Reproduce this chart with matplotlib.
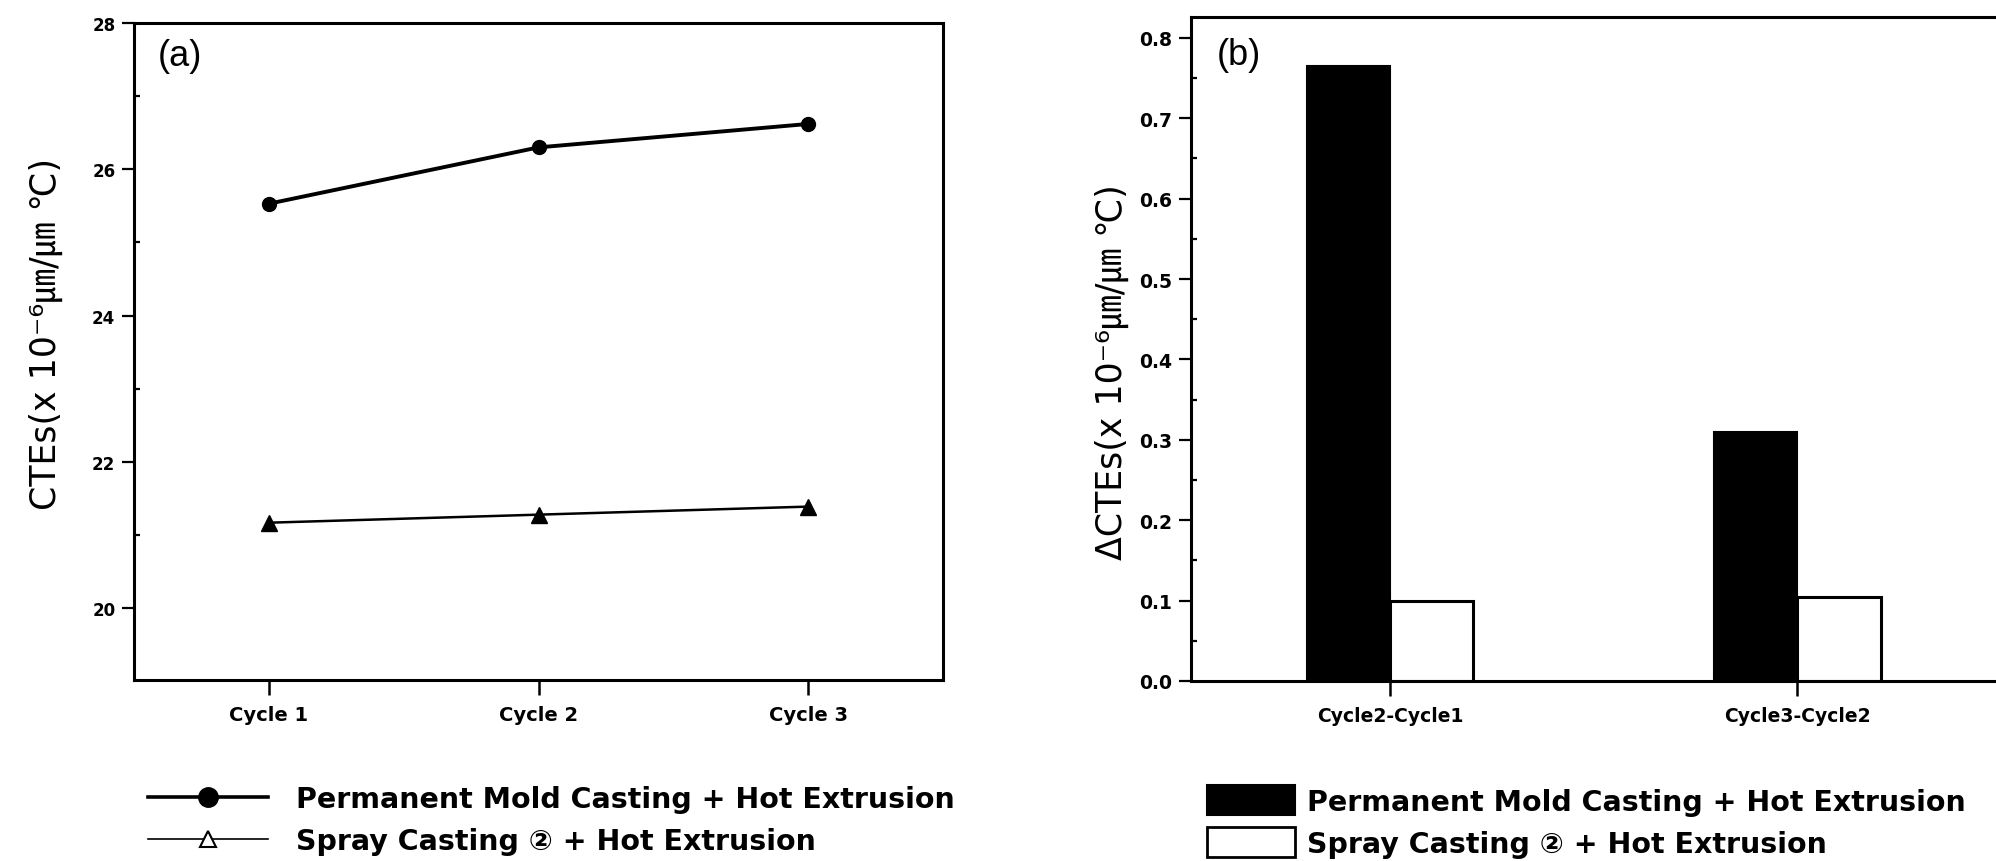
import matplotlib
matplotlib.use('Agg')
import matplotlib.pyplot as plt
from matplotlib.lines import Line2D
from matplotlib.patches import Patch
from matplotlib.ticker import MultipleLocator, FormatStrFormatter

# ---- data ----
cycles = ['Cycle 1', 'Cycle 2', 'Cycle 3']
permanent_cte = [25.53, 26.30, 26.62]
spray_cte = [21.17, 21.28, 21.39]

diff_labels = ['Cycle2-Cycle1', 'Cycle3-Cycle2']
permanent_dcte = [0.765, 0.31]
spray_dcte = [0.10, 0.105]

series_names = ['Permanent Mold Casting + Hot Extrusion',
                'Spray Casting ② + Hot Extrusion']

FAM = ['DejaVu Sans', 'Noto Sans CJK KR']
W, H = 1996, 862

fig = plt.figure(figsize=(W / 100, H / 100), dpi=100)
ax1 = fig.add_axes([134 / W, (H - 681) / H, 809 / W, 657 / H])
ax2 = fig.add_axes([1191 / W, (H - 682) / H, 810 / W, 664 / H])


def style_axes(ax, ylab_size, xlab_size):
    for sp in ax.spines.values():
        sp.set_linewidth(2.2)
    ax.tick_params(axis='y', which='major', direction='out', length=8.5,
                   width=1.6, labelsize=ylab_size, pad=5, right=False)
    ax.tick_params(axis='y', which='minor', direction='in', length=4,
                   width=1.6, right=False)
    ax.tick_params(axis='x', which='major', direction='out', length=11,
                   width=1.8, labelsize=xlab_size, pad=7, top=False)
    ax.tick_params(axis='x', which='minor', bottom=False, top=False)
    for lbl in ax.get_xticklabels() + ax.get_yticklabels():
        lbl.set_fontweight('bold')
        lbl.set_family('DejaVu Sans')


# ---- panel (a) ----
xpos = list(range(1, len(cycles) + 1))
ax1.plot(xpos, permanent_cte, color='black', lw=2.8, marker='o', ms=10)
ax1.plot(xpos, spray_cte, color='black', lw=1.8, marker='^', ms=11)
ax1.set_xlim(0.5, len(cycles) + 0.5)
ax1.set_ylim(19.02, 28)
ax1.set_xticks(xpos)
ax1.set_xticklabels(cycles)
ax1.set_yticks([20, 22, 24, 26, 28])
ax1.yaxis.set_minor_locator(MultipleLocator(1))
style_axes(ax1, 12, 14)
ax1.set_ylabel('CTEs(x 10⁻⁶㎛/㎛ ℃)', fontsize=25, family=FAM)
ax1.yaxis.set_label_coords(-0.088, 0.528)
ax1.text(0.057, 0.95, '(a)', transform=ax1.transAxes, fontsize=26,
         family='Liberation Sans', ha='center', va='center')

# ---- panel (b) ----
bw = 0.204
gpos = list(range(1, len(diff_labels) + 1))
ax2.bar([g - bw for g in gpos], permanent_dcte, width=bw, align='edge',
        color='black', edgecolor='black', lw=1.5)
ax2.bar(gpos, spray_dcte, width=bw, align='edge',
        color='white', edgecolor='black', lw=2.2)
ax2.set_xlim(0.51, len(diff_labels) + 0.5)
ax2.set_ylim(0, 0.826)
ax2.set_xticks(gpos)
ax2.set_xticklabels(diff_labels)
ax2.set_yticks([0, 0.1, 0.2, 0.3, 0.4, 0.5, 0.6, 0.7, 0.8])
ax2.yaxis.set_major_formatter(FormatStrFormatter('%.1f'))
ax2.yaxis.set_minor_locator(MultipleLocator(0.05))
style_axes(ax2, 13.5, 13.5)
ax2.set_ylabel('ΔCTEs(x 10⁻⁶㎛/㎛ ℃)', fontsize=25, family=FAM)
ax2.yaxis.set_label_coords(-0.076, 0.467)
ax2.text(0.059, 0.944, '(b)', transform=ax2.transAxes, fontsize=26,
         family='Liberation Sans', ha='center', va='center')

# ---- legends ----
prop = dict(family=FAM, weight='bold', size=20.5)
h1 = [Line2D([], [], color='black', lw=2.6, marker='o', ms=14),
      Line2D([], [], color='black', lw=1.2, marker='^', ms=11,
             mfc='white', mec='black', mew=1.5)]
fig.legend(h1, series_names, loc='upper left',
           bbox_to_anchor=(148 / W, (H - 786) / H), bbox_transform=fig.transFigure,
           frameon=False, handlelength=4.2, handletextpad=1.0, labelspacing=0.5,
           borderpad=0, borderaxespad=0, prop=prop)

h2 = [Patch(facecolor='black', edgecolor='black', lw=1.5),
      Patch(facecolor='white', edgecolor='black', lw=2.0)]
fig.legend(h2, series_names, loc='upper left',
           bbox_to_anchor=(1207 / W, (H - 786) / H), bbox_transform=fig.transFigure,
           frameon=False, handlelength=3.1, handleheight=1.25, handletextpad=0.4,
           labelspacing=0.4, borderpad=0, borderaxespad=0, prop=prop)

fig.savefig('out.png', dpi=100)
